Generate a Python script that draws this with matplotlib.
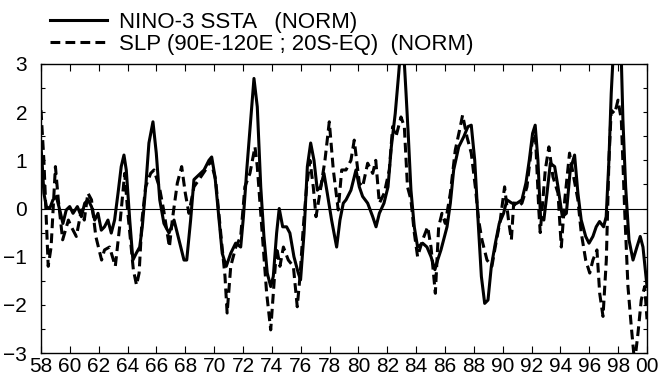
import matplotlib
matplotlib.use("Agg")
import matplotlib.pyplot as plt

plt.rcParams["font.family"] = ["Liberation Sans", "DejaVu Sans"]

# NINO-3 SSTA (normalised), years since 1900
nino_t = [58.0, 58.07, 58.2, 58.37, 58.6, 58.83, 59.06, 59.3, 59.52, 59.75, 59.99,
          60.22, 60.52, 60.8, 61.03, 61.26, 61.5, 61.72, 61.95, 62.18, 62.4, 62.64,
          62.87, 63.1, 63.34, 63.56, 63.75, 63.91, 64.15, 64.37, 64.6, 64.84, 65.02,
          65.26, 65.48, 65.76, 65.99, 66.23, 66.52, 66.87, 67.22, 67.56, 67.91, 68.1,
          68.37, 68.6, 68.95, 69.3, 69.64, 69.83, 70.06, 70.34, 70.56, 70.84, 71.15,
          71.49, 71.84, 72.03, 72.26, 72.53, 72.76, 72.99, 73.23, 73.45, 73.68, 73.92,
          74.1, 74.33, 74.51, 74.75, 75.02, 75.25, 75.53, 75.83, 75.99, 76.23, 76.46,
          76.69, 76.92, 77.15, 77.38, 77.61, 77.84, 78.14, 78.49, 78.72, 78.95, 79.14,
          79.48, 79.83, 80.06, 80.29, 80.64, 80.99, 81.22, 81.45, 81.77, 82.05, 82.28,
          82.55, 82.79, 82.95, 83.12, 83.3, 83.46, 83.64, 83.87, 84.1, 84.45, 84.75,
          85.03, 85.3, 85.49, 85.72, 86.14, 86.37, 86.6, 86.95, 87.3, 87.59, 87.82,
          88.06, 88.29, 88.52, 88.75, 88.98, 89.21, 89.49, 89.76, 90.06, 90.29, 90.64,
          90.99, 91.33, 91.61, 91.84, 92.07, 92.25, 92.44, 92.62, 92.85, 93.07, 93.3,
          93.6, 93.83, 94.13, 94.41, 94.68, 94.98, 95.21, 95.44, 95.75, 95.98, 96.25,
          96.48, 96.71, 96.99, 97.17, 97.36, 97.52, 97.64, 97.8, 98.05, 98.22, 98.33,
          98.52, 98.75, 99.03, 99.3, 99.53, 99.72, 100.0]
nino_v = [1.28, 1.0, 0.32, 0.04, 0.0, 0.18, 0.25, -0.03, -0.31, -0.03, 0.04,
          -0.1, 0.04, -0.17, 0.11, 0.18, 0.04, -0.24, -0.1, -0.45, -0.38, -0.24,
          -0.51, -0.24, 0.32, 0.87, 1.11, 0.8, -0.24, -1.07, -0.93, -0.8, -0.38,
          0.45, 1.36, 1.8, 1.15, 0.18, -0.31, -0.51, -0.24, -0.65, -1.07, -1.07,
          -0.24, 0.6, 0.7, 0.8, 1.0, 1.07, 0.66, -0.24, -0.93, -1.2, -0.93,
          -0.72, -0.8, -0.17, 0.8, 1.84, 2.7, 2.11, 0.45, -0.58, -1.34, -1.62,
          -1.41, -0.51, 0.0, -0.38, -0.38, -0.51, -1.0, -1.34, -1.48, -0.51, 0.87,
          1.36, 1.0, 0.38, 0.45, 0.73, 0.32, -0.24, -0.8, -0.24, 0.11, 0.18,
          0.38, 0.8, 0.45, 0.25, 0.11, -0.17, -0.38, -0.1, 0.11, 0.45, 1.28,
          1.97, 2.8, 3.4, 3.35, 2.39, 1.49, 0.38, -0.38, -0.8, -0.72, -0.8,
          -1.0, -1.27, -1.07, -0.86, -0.38, 0.11, 0.8, 1.28, 1.49, 1.7, 1.73,
          1.0, -0.24, -1.41, -1.97, -1.9, -1.2, -0.72, -0.31, -0.1, 0.18, 0.11,
          0.11, 0.18, 0.53, 1.0, 1.56, 1.73, 1.0, -0.17, -0.24, 0.32, 0.94,
          0.87, 0.45, -0.17, -0.1, 0.8, 1.11, 0.32, -0.24, -0.58, -0.72, -0.58,
          -0.38, -0.27, -0.38, -0.17, 1.0, 2.39, 3.1, 3.5, 3.5, 3.1, 1.84,
          0.45, -0.65, -1.07, -0.8, -0.58, -0.8, -1.62]

# SLP 90E-120E ; 20S-EQ (normalised)
slp_t = [58.0, 58.2, 58.5, 58.7, 59.0, 59.2, 59.5, 59.9, 60.1, 60.45, 60.8, 61.0,
         61.25, 61.5, 61.8, 62.2, 62.4, 62.75, 63.15, 63.45, 63.8, 64.0, 64.4, 64.62,
         64.8, 65.0, 65.25, 65.6, 65.83, 66.2, 66.5, 66.9, 67.1, 67.45, 67.75, 68.0,
         68.25, 68.6, 68.95, 69.4, 69.76, 70.1, 70.3, 70.55, 70.75, 70.9, 71.15, 71.5,
         71.84, 72.13, 72.48, 72.83, 72.99, 73.3, 73.64, 73.92, 74.1, 74.33, 74.56,
         74.8, 75.14, 75.49, 75.76, 75.95, 76.18, 76.41, 76.64, 76.87, 77.06, 77.33,
         77.68, 77.98, 78.26, 78.6, 78.84, 79.14, 79.48, 79.71, 80.06, 80.29, 80.64,
         80.99, 81.2, 81.45, 81.79, 82.14, 82.37, 82.6, 82.95, 83.18, 83.4, 83.64,
         83.87, 84.1, 84.45, 84.8, 85.03, 85.33, 85.56, 85.79, 86.02, 86.37, 86.71,
         87.06, 87.22, 87.52, 87.82, 88.1, 88.33, 88.56, 88.91, 89.25, 89.48, 89.83,
         90.13, 90.4, 90.6, 90.76, 91.06, 91.33, 91.68, 92.03, 92.26, 92.5, 92.6,
         92.95, 93.2, 93.48, 93.83, 94.06, 94.3, 94.63, 94.87, 95.21, 95.44, 95.75,
         96.03, 96.25, 96.53, 96.72, 96.95, 97.18, 97.36, 97.52, 97.76, 97.99, 98.22,
         98.45, 98.68, 98.91, 99.14, 99.37, 99.6, 99.84, 100.0]
slp_v = [2.04, 1.0, -1.2, -0.8, 0.87, 0.18, -0.65, -0.24, -0.38, -0.58, -0.03, -0.24,
         0.32, 0.18, -0.58, -1.07, -0.86, -0.8, -1.2, -0.38, 0.73, -0.03, -1.27, -1.59,
         -1.34, -0.24, 0.45, 0.73, 0.8, 0.45, -0.03, -0.8, -0.24, 0.53, 0.87, 0.32,
         -0.1, 0.45, 0.6, 0.8, 1.0, 0.6, -0.03, -0.8, -1.4, -2.17, -1.2, -0.8,
         -0.58, 0.45, 0.73, 1.28, 0.87, -0.38, -1.76, -2.52, -1.76, -0.8, -1.2,
         -0.8, -1.07, -1.2, -2.04, -1.41, -0.38, 0.45, 1.0, 0.45, -0.17, 0.32,
         1.0, 1.8, 0.8, -0.03, 0.8, 0.8, 1.0, 1.42, 0.53, 0.45, 0.94,
         0.73, 1.0, 0.11, 0.32, 0.8, 1.7, 1.49, 1.9, 1.7, 0.45, 0.18,
         -0.5, -1.0, -0.65, -0.38, -0.8, -1.76, -0.38, -0.1, -0.31, 0.32, 1.21,
         1.7, 1.94, 1.49, 1.15, 0.45, -0.24, -0.65, -1.07, -1.2, -0.8, -0.24,
         0.45, -0.24, -0.65, 0.11, 0.04, 0.11, 0.45, 1.36, 1.56, -0.03, -0.5,
         0.8, 1.28, 0.66, 0.32, -0.8, 0.18, 1.15, 0.73, 0.18, -0.5, -1.07,
         -1.34, -1.07, -0.86, -1.76, -2.24, -1.07, 1.0, 2.04, 1.97, 2.25, 1.84,
         -0.03, -1.62, -2.45, -3.2, -2.6, -1.9, -1.62, -2.3]

year_ticks = list(range(58, 101, 2))
year_labels = ["%02d" % (y % 100) for y in year_ticks]

fig = plt.figure(figsize=(6.58, 3.8), dpi=100)
ax = fig.add_axes([0.0623, 0.071, 0.921, 0.7606])

ax.axhline(0, color="black", lw=0.8, zorder=1)
ax.plot(nino_t, nino_v, color="black", lw=2.2, solid_joinstyle="round",
        label="NINO-3 SSTA   (NORM)", zorder=3)
ax.plot(slp_t, slp_v, color="black", lw=2.2, dashes=(3.2, 1.7),
        label="SLP (90E-120E ; 20S-EQ)  (NORM)", zorder=2)

ax.set_xlim(58, 100)
ax.set_ylim(-3, 3)
ax.set_xticks(year_ticks)
ax.set_xticklabels(year_labels)
ax.set_yticks([-3, -2, -1, 0, 1, 2, 3])
ax.set_yticks([-2.5, -1.5, -0.5, 0.5, 1.5, 2.5], minor=True)
ax.tick_params(axis="x", direction="in", length=5, width=0.8, top=True,
               labelsize=15, pad=3)
ax.tick_params(axis="y", which="both", direction="in", length=3, width=0.8,
               right=True, labelsize=15, pad=10)
for s in ax.spines.values():
    s.set_linewidth(1.0)

ax.legend(loc="lower left", bbox_to_anchor=(0.0, 1.0), frameon=False,
          fontsize=16, handlelength=2.55, handletextpad=0.58, labelspacing=0.06,
          borderpad=0.0, borderaxespad=0.4)

fig.savefig("out.png", dpi=100)
